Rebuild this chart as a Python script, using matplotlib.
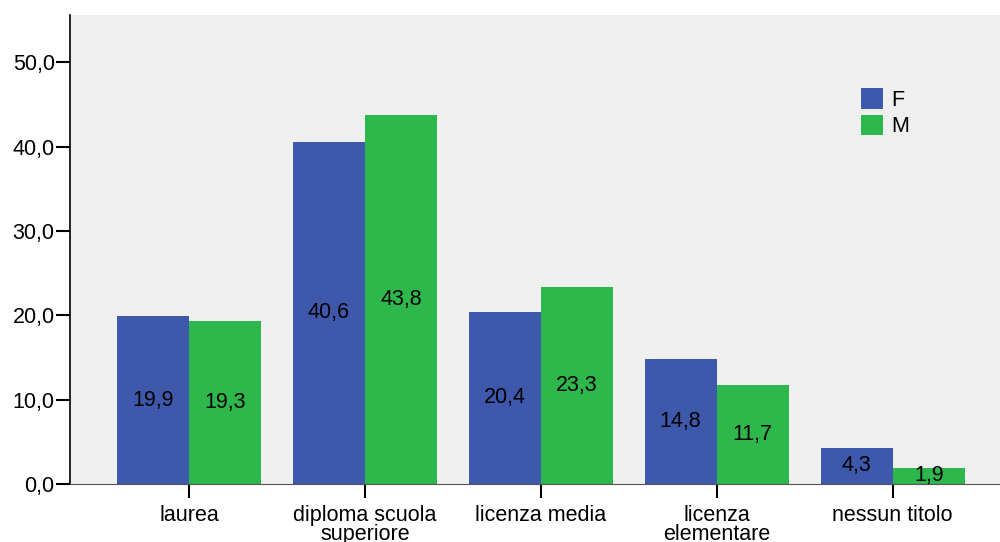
import numpy as np
import matplotlib.pyplot as plt
import matplotlib

matplotlib.rcParams['font.family'] = ['Liberation Sans', 'DejaVu Sans']

# dati
categorie = ['laurea', 'diploma scuola\nsuperiore', 'licenza media', 'licenza\nelementare', 'nessun titolo']
valori_f = [19.9, 40.6, 20.4, 14.8, 4.3]
valori_m = [19.3, 43.8, 23.3, 11.7, 1.9]
yticks = [0, 10, 20, 30, 40, 50]

col_f = '#3e58ac'
col_m = '#2eb84b'

fig = plt.figure(figsize=(10, 5.42), dpi=100)
ax = fig.add_axes([0.07, 0.107, 0.93, 0.8653])
ax.set_facecolor('#efefef')

x = np.arange(len(categorie))
w = 0.41
bf = ax.bar(x - w / 2, valori_f, w, color=col_f, label='F')
bm = ax.bar(x + w / 2, valori_m, w, color=col_m, label='M')

# etichette dentro le barre
for barre in (bf, bm):
    for b in barre:
        v = b.get_height()
        ax.text(b.get_x() + b.get_width() / 2, v / 2, f'{v:.1f}'.replace('.', ','),
                ha='center', va='center', fontsize=15.5, color='black')

ax.set_xlim(-0.676, 4.61)
ax.set_ylim(0, 55.6)
ax.set_yticks(yticks)
ax.set_yticklabels([f'{t:.1f}'.replace('.', ',') for t in yticks], fontsize=15.5)
ax.set_xticks(x)
ax.set_xticklabels(categorie, fontsize=15.5, linespacing=0.9)

ax.spines['top'].set_visible(False)
ax.spines['right'].set_visible(False)
ax.spines['left'].set_linewidth(1.2)
ax.spines['bottom'].set_color('#555555')
ax.tick_params(axis='y', length=10, width=1.5, pad=1)
ax.tick_params(axis='x', length=10, width=1.5, pad=5)

ax.legend(loc='upper left', bbox_to_anchor=(0.83, 0.886), frameon=False,
          fontsize=15.5, handlelength=1.0, handleheight=1.1, handletextpad=0.4,
          labelspacing=0.2)

plt.savefig('out.png', dpi=100)
